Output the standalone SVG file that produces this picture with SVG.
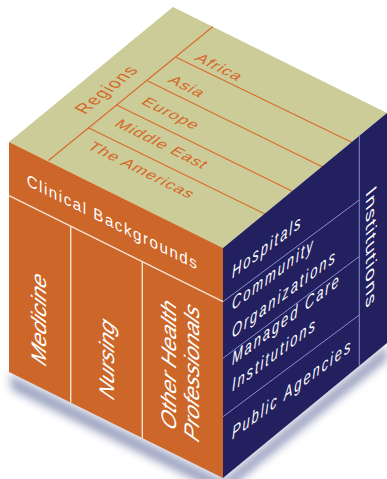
<svg xmlns="http://www.w3.org/2000/svg" width="387" height="479" viewBox="0 0 387 479">
<style>
text{font-family:"Liberation Sans",Arial,Helvetica,sans-serif}
.top{fill:#CCCC99}
.left{fill:#CC6629}
.right{fill:#232060}
.tline{stroke:#D86B2C;stroke-width:1.1;fill:none}
.lline{stroke:#FBE3D2;stroke-width:1.4;fill:none}
.rline{stroke:#8C8CCB;stroke-width:1;fill:none}
.tt{fill:#D4692A;font-size:17px;letter-spacing:1px}
.ct{fill:#FFFFFF;font-size:17px;letter-spacing:1.7px}
.vt{fill:#FFFFFF;font-size:23.5px;font-style:italic}
.rt{fill:#FFFFFF;font-size:19px;font-style:italic;letter-spacing:2.8px}
.it{fill:#FFFFFF;font-size:22px;letter-spacing:1.5px}
</style>
<defs>
<filter id="soft" x="-20%" y="-50%" width="140%" height="200%"><feGaussianBlur stdDeviation="4"/></filter>
</defs>
<g id="shadow"><polygon points="9,374 223,480 387,345 387,360 223,494 12,390" fill="#7E86AE" opacity="0.75" filter="url(#soft)"/></g>
<g id="top-face">
<polygon class="top" points="173,7 387,113 223,248 9,142"/>
<g id="connectors">
<line class="tline" x1="212.7" y1="26.7" x2="48.5" y2="160.5"/>
<line class="tline" x1="176" y1="57.3" x2="352.7" y2="142.7"/>
<line class="tline" x1="147.7" y1="81" x2="323.3" y2="167.3"/>
<line class="tline" x1="116.7" y1="105" x2="293.3" y2="191.7"/>
<line class="tline" x1="88.3" y1="127.7" x2="265" y2="214"/>
</g>
<g transform="matrix(0.8917,0.4417,-0.6833,0.5625,173,7)">
<text class="tt" transform="translate(30,128) rotate(-90)" text-anchor="middle" style="font-size:19px;letter-spacing:1.5px">Regions</text>
<text class="tt" x="59" y="47">Africa</text>
<text class="tt" x="59" y="86">Asia</text>
<text class="tt" x="59" y="125">Europe</text>
<text class="tt" x="59" y="164">Middle East</text>
<text class="tt" x="59" y="204">The Americas</text>
</g>
</g>
<g id="left-face">
<polygon class="left" points="9,142 223,248 223,478 9,372"/>
<g transform="matrix(0.8917,0.4417,0,0.9583,9,142)">
<line class="lline" vector-effect="non-scaling-stroke" x1="0" y1="56" x2="240" y2="56"/>
<line class="lline" vector-effect="non-scaling-stroke" x1="69.2" y1="56" x2="69.2" y2="240"/>
<line class="lline" vector-effect="non-scaling-stroke" x1="149.5" y1="56" x2="149.5" y2="240"/>
<text class="ct" x="19.8" y="36">Clinical Backgrounds</text>
<text class="vt" transform="translate(41.5,216) rotate(-90)">Medicine</text>
<text class="vt" transform="translate(117.8,216) rotate(-90)">Nursing</text>
<text class="vt" transform="translate(187.3,216) rotate(-90)">Other Health</text>
<text class="vt" transform="translate(213.6,216) rotate(-90)">Professionals</text>
</g>
</g>
<g id="right-face">
<polygon class="right" points="223,248 387,113 387,343 223,478"/>
<line class="rline" x1="359.3" y1="135.8" x2="359.3" y2="365.8"/>
<g transform="matrix(0.6833,-0.5098,0,0.9583,223,248)">
<line class="rline" vector-effect="non-scaling-stroke" x1="0" y1="56" x2="199.5" y2="56"/>
<line class="rline" vector-effect="non-scaling-stroke" x1="0" y1="115" x2="199.5" y2="115"/>
<line class="rline" vector-effect="non-scaling-stroke" x1="0" y1="176" x2="199.5" y2="176"/>
<text class="rt" x="13" y="39">Hospitals</text>
<text class="rt" x="13" y="72.5">Community</text>
<text class="rt" x="13" y="101.5">Organizations</text>
<text class="rt" x="13" y="129.5">Managed Care</text>
<text class="rt" x="13" y="157">Institutions</text>
<text class="rt" x="13" y="207">Public Agencies</text>
</g>
<g transform="matrix(0.6833,-0.5625,0,0.9583,223,248)">
<text class="it" transform="translate(210,127) rotate(90)" text-anchor="middle">Institutions</text>
</g>
</g>
</svg>
